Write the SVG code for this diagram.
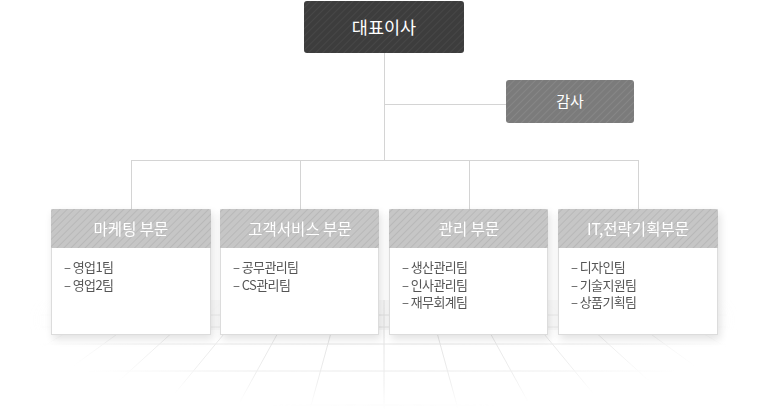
<svg xmlns="http://www.w3.org/2000/svg" width="767" height="409" viewBox="0 0 767 409">
<style>
.ttl{font-family:"Noto Sans CJK KR","Noto Sans",sans-serif;fill:#fff;text-anchor:middle}
.it{font-family:"Noto Sans CJK KR","Noto Sans",sans-serif;font-size:13px;fill:#555;letter-spacing:-0.6px}
.con{stroke:#d4d4d4;stroke-width:1;fill:none}
.card{fill:#fff;stroke:#dcdcdc;stroke-width:1}
.grid{stroke:#dedede;stroke-width:1;fill:none}
</style>
<defs>
<pattern id="hd" width="5" height="5" patternUnits="userSpaceOnUse" patternTransform="rotate(45)"><rect width="5" height="5" fill="#3d3d3d"/><rect width="1" height="5" fill="#474747"/></pattern>
<pattern id="hm" width="5" height="5" patternUnits="userSpaceOnUse" patternTransform="rotate(45)"><rect width="5" height="5" fill="#7b7b7b"/><rect width="1" height="5" fill="#868686"/></pattern>
<pattern id="hl" width="5" height="5" patternUnits="userSpaceOnUse" patternTransform="rotate(45)"><rect width="5" height="5" fill="#c6c6c6"/><rect width="1" height="5" fill="#b8b8b8"/></pattern>
<radialGradient id="fade" cx="384" cy="320" r="360" gradientUnits="userSpaceOnUse" gradientTransform="translate(384 320) scale(1 0.25) translate(-384 -320)"><stop offset="0" stop-color="#fff"/><stop offset="0.7" stop-color="#fff" stop-opacity="0.5"/><stop offset="1" stop-color="#fff" stop-opacity="0"/></radialGradient>
<mask id="fm"><rect x="0" y="290" width="767" height="119" fill="url(#fade)"/></mask>
<filter id="sh" x="-10%" y="-10%" width="130%" height="130%"><feGaussianBlur in="SourceAlpha" stdDeviation="4"/><feOffset dx="2" dy="4"/><feComponentTransfer><feFuncA type="linear" slope="0.12"/></feComponentTransfer><feMerge><feMergeNode/><feMergeNode in="SourceGraphic"/></feMerge></filter>
</defs>
<rect width="767" height="409" fill="#fff"/>
<g id="floor" mask="url(#fm)">
<rect x="30" y="300" width="707" height="30" fill="#f2f2f2" opacity="0.6"/>
<g class="grid">
<line x1="40" y1="315" x2="727" y2="315"/>
<line x1="40" y1="327" x2="727" y2="327"/>
<line x1="40" y1="344" x2="727" y2="344"/>
<line x1="40" y1="371" x2="727" y2="371"/>
<line x1="40" y1="405" x2="727" y2="405"/>
<line x1="384" y1="300" x2="384" y2="409"/>
<line x1="340" y1="300" x2="310" y2="409"/>
<line x1="296" y1="300" x2="236" y2="409"/>
<line x1="252" y1="300" x2="162" y2="409"/>
<line x1="208" y1="300" x2="88" y2="409"/>
<line x1="164" y1="300" x2="14" y2="409"/>
<line x1="120" y1="300" x2="-60" y2="409"/>
<line x1="428" y1="300" x2="458" y2="409"/>
<line x1="472" y1="300" x2="532" y2="409"/>
<line x1="516" y1="300" x2="606" y2="409"/>
<line x1="560" y1="300" x2="680" y2="409"/>
<line x1="604" y1="300" x2="754" y2="409"/>
<line x1="648" y1="300" x2="828" y2="409"/>
</g>
</g>
<g id="connectors" class="con">
<line x1="384.5" y1="53" x2="384.5" y2="160"/>
<line x1="384.5" y1="104.5" x2="506" y2="104.5"/>
<line x1="131.5" y1="160.5" x2="638.5" y2="160.5"/>
<line x1="131.5" y1="160" x2="131.5" y2="209"/>
<line x1="300.5" y1="160" x2="300.5" y2="209"/>
<line x1="469.5" y1="160" x2="469.5" y2="209"/>
<line x1="638.5" y1="160" x2="638.5" y2="209"/>
</g>
<g id="ceo">
<rect x="304" y="1" width="160" height="52" rx="3" fill="url(#hd)"/>
<text class="ttl" x="384" y="33.5" font-size="17.5">대표이사</text>
</g>
<g id="audit">
<rect x="506" y="80" width="128" height="43" rx="3" fill="url(#hm)"/>
<text class="ttl" x="570" y="107" font-size="15">감사</text>
</g>
<g id="marketing" filter="url(#sh)">
<rect class="card" x="51.5" y="209.5" width="159" height="125"/>
<path d="M51,248 V212 a3 3 0 0 1 3 -3 H208 a3 3 0 0 1 3 3 V248 Z" fill="url(#hl)"/>
<text class="ttl" x="131" y="235" font-size="15.5">마케팅 부문</text>
<text class="it" x="64" y="272">– 영업1팀</text>
<text class="it" x="64" y="289.5">– 영업2팀</text>
</g>
<g id="cs" filter="url(#sh)">
<rect class="card" x="220.5" y="209.5" width="158" height="125"/>
<path d="M220,248 V212 a3 3 0 0 1 3 -3 H376 a3 3 0 0 1 3 3 V248 Z" fill="url(#hl)"/>
<text class="ttl" x="300" y="235" font-size="15.5">고객서비스 부문</text>
<text class="it" x="233" y="272">– 공무관리팀</text>
<text class="it" x="233" y="289.5">– CS관리팀</text>
</g>
<g id="admin" filter="url(#sh)">
<rect class="card" x="389.5" y="209.5" width="158" height="125"/>
<path d="M389,248 V212 a3 3 0 0 1 3 -3 H545 a3 3 0 0 1 3 3 V248 Z" fill="url(#hl)"/>
<text class="ttl" x="469" y="235" font-size="15.5">관리 부문</text>
<text class="it" x="402" y="272">– 생산관리팀</text>
<text class="it" x="402" y="289.5">– 인사관리팀</text>
<text class="it" x="402" y="307">– 재무회계팀</text>
</g>
<g id="it" filter="url(#sh)">
<rect class="card" x="558.5" y="209.5" width="159" height="125"/>
<path d="M558,248 V212 a3 3 0 0 1 3 -3 H715 a3 3 0 0 1 3 3 V248 Z" fill="url(#hl)"/>
<text class="ttl" x="638" y="235" font-size="15.5">IT,전략기획부문</text>
<text class="it" x="571" y="272">– 디자인팀</text>
<text class="it" x="571" y="289.5">– 기술지원팀</text>
<text class="it" x="571" y="307">– 상품기획팀</text>
</g>
</svg>
